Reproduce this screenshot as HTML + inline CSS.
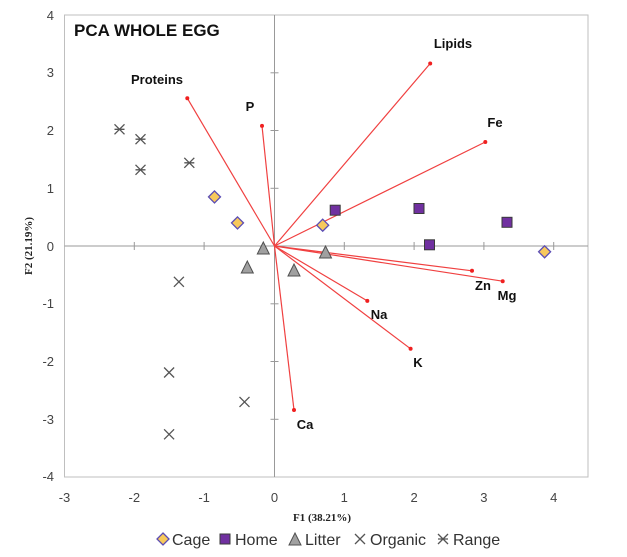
<!DOCTYPE html>
<html><head><meta charset="utf-8"><style>body{margin:0;background:#fff}svg{display:block}</style></head>
<body>
<svg width="627" height="557" xmlns="http://www.w3.org/2000/svg" font-family="Liberation Sans, sans-serif">
<defs>
<g id="dia"><path d="M0,-6 L6,0 L0,6 L-6,0Z" fill="#f7c95c" stroke="#5b4db5" stroke-width="1.3"/></g>
<g id="sq"><rect x="-5" y="-5" width="10" height="10" fill="#7030a0" stroke="#3a3a3a" stroke-width="1"/></g>
<g id="tri"><path d="M0,-7 L6,5 L-6,5Z" fill="#a0a0a0" stroke="#505050" stroke-width="1"/></g>
<g id="xx"><path d="M-5,-5 L5,5 M5,-5 L-5,5" stroke="#555" stroke-width="1.3"/></g>
<g id="ast"><path d="M-5,-5 L5,5 M5,-5 L-5,5 M-5,0 L5,0" stroke="#555" stroke-width="1.3"/></g>
</defs>
<rect x="64.5" y="15" width="523.5" height="462" fill="#fff" stroke="#bfbfbf" stroke-width="1"/>
<line x1="64.5" y1="246" x2="588" y2="246" stroke="#999"/>
<line x1="274.5" y1="15" x2="274.5" y2="477" stroke="#999"/>
<g stroke="#999">
<line x1="134.3" y1="242" x2="134.3" y2="250"/><line x1="204.1" y1="242" x2="204.1" y2="250"/>
<line x1="344.3" y1="242" x2="344.3" y2="250"/><line x1="414.1" y1="242" x2="414.1" y2="250"/>
<line x1="483.9" y1="242" x2="483.9" y2="250"/><line x1="553.7" y1="242" x2="553.7" y2="250"/>
<line x1="270.5" y1="72.8" x2="278.5" y2="72.8"/><line x1="270.5" y1="130.5" x2="278.5" y2="130.5"/>
<line x1="270.5" y1="188.3" x2="278.5" y2="188.3"/><line x1="270.5" y1="303.8" x2="278.5" y2="303.8"/>
<line x1="270.5" y1="361.5" x2="278.5" y2="361.5"/><line x1="270.5" y1="419.3" x2="278.5" y2="419.3"/>
</g>
<g font-size="13" fill="#444" text-anchor="end">
<text x="54" y="20">4</text><text x="54" y="77">3</text><text x="54" y="135">2</text><text x="54" y="193">1</text>
<text x="54" y="251">0</text><text x="54" y="308">-1</text><text x="54" y="366">-2</text><text x="54" y="424">-3</text><text x="54" y="481">-4</text>
</g>
<g font-size="13" fill="#444" text-anchor="middle">
<text x="64.5" y="502">-3</text><text x="134.3" y="502">-2</text><text x="204.1" y="502">-1</text><text x="274.5" y="502">0</text>
<text x="344.3" y="502">1</text><text x="414.1" y="502">2</text><text x="483.9" y="502">3</text><text x="553.7" y="502">4</text>
</g>
<text x="322" y="521" font-family="Liberation Serif, serif" font-weight="bold" font-size="11" text-anchor="middle" fill="#222">F1 (38.21%)</text>
<text transform="translate(32,246) rotate(-90)" font-family="Liberation Serif, serif" font-weight="bold" font-size="11" text-anchor="middle" fill="#222">F2 (21.19%)</text>
<text x="74" y="36" font-weight="bold" font-size="17" fill="#111">PCA WHOLE EGG</text>
<g stroke="#f04040" stroke-width="1.2">
<line x1="274.5" y1="246" x2="187.3" y2="98.2"/>
<line x1="274.5" y1="246" x2="262" y2="125.9"/>
<line x1="274.5" y1="246" x2="430.2" y2="63.5"/>
<line x1="274.5" y1="246" x2="485.3" y2="142"/>
<line x1="274.5" y1="246" x2="472" y2="270.8"/>
<line x1="274.5" y1="246" x2="502.7" y2="281.2"/>
<line x1="274.5" y1="246" x2="367.3" y2="300.9"/>
<line x1="274.5" y1="246" x2="410.6" y2="348.8"/>
<line x1="274.5" y1="246" x2="294" y2="410"/>
</g>
<g fill="#f02020">
<circle cx="187.3" cy="98.2" r="2"/><circle cx="262" cy="125.9" r="2"/><circle cx="430.2" cy="63.5" r="2"/>
<circle cx="485.3" cy="142" r="2"/><circle cx="472" cy="270.8" r="2"/><circle cx="502.7" cy="281.2" r="2"/>
<circle cx="367.3" cy="300.9" r="2"/><circle cx="410.6" cy="348.8" r="2"/><circle cx="294" cy="410" r="2"/>
</g>
<g font-weight="bold" font-size="13" fill="#111" text-anchor="middle">
<text x="157" y="84">Proteins</text><text x="250" y="111">P</text><text x="453" y="48">Lipids</text>
<text x="495" y="127">Fe</text><text x="483" y="290">Zn</text><text x="507" y="300">Mg</text>
<text x="379" y="319">Na</text><text x="418" y="367">K</text><text x="305" y="429">Ca</text>
</g>
<use href="#ast" x="119.5" y="129.3"/><use href="#ast" x="140.5" y="139.2"/><use href="#ast" x="140.5" y="169.8"/><use href="#ast" x="189.3" y="162.8"/>
<use href="#xx" x="178.9" y="281.8"/><use href="#xx" x="169.1" y="372.5"/><use href="#xx" x="244.5" y="401.9"/><use href="#xx" x="169.1" y="434.3"/>
<use href="#tri" x="263.3" y="249"/><use href="#tri" x="247.3" y="268"/><use href="#tri" x="294" y="271"/><use href="#tri" x="325.5" y="253"/>
<use href="#dia" x="214.5" y="196.9"/><use href="#dia" x="237.5" y="222.9"/><use href="#dia" x="322.7" y="225.2"/><use href="#dia" x="544.6" y="251.8"/>
<use href="#sq" x="335.2" y="210.2"/><use href="#sq" x="419" y="208.5"/><use href="#sq" x="429.5" y="244.8"/><use href="#sq" x="507" y="222.3"/>
<g font-size="16" fill="#333">
<use href="#dia" x="163" y="539"/><text x="172" y="545">Cage</text>
<use href="#sq" x="225" y="539"/><text x="235" y="545">Home</text>
<use href="#tri" x="295" y="540"/><text x="305" y="545">Litter</text>
<use href="#xx" x="360" y="539"/><text x="370" y="545">Organic</text>
<use href="#ast" x="443" y="539"/><text x="453" y="545">Range</text>
</g>
</svg>
</body></html>
